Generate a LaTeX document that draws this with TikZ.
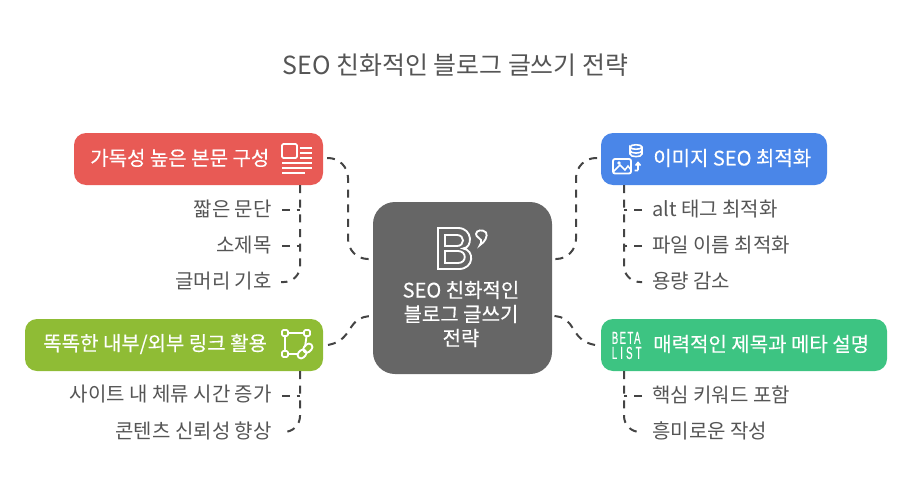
\documentclass[tikz,border=0pt]{standalone}
\usepackage{fontspec}
\setmainfont{Noto Sans CJK KR}
\newfontfamily\boxfont[FakeBold=0.25]{Noto Sans CJK KR}
\newfontfamily\betafont[FakeStretch=0.56,LetterSpace=8,FakeBold=0.4]{Liberation Sans}
\definecolor{redbox}{HTML}{E85A55}
\definecolor{bluebox}{HTML}{4A86E8}
\definecolor{greenbox}{HTML}{3DC482}
\definecolor{olivebox}{HTML}{8FBC35}
\definecolor{centerbox}{HTML}{666666}
\definecolor{inktext}{HTML}{555555}
\definecolor{linkline}{HTML}{444444}
\tikzset{
  box/.style={rounded corners=9pt,minimum height=39pt,inner sep=0pt},
  boxtext/.style={text=white,inner sep=0pt,font=\boxfont\fontsize{15}{18}\selectfont},
  itemleft/.style={text=inktext,inner sep=0pt,anchor=east,font=\fontsize{15}{18}\selectfont},
  itemright/.style={text=inktext,inner sep=0pt,anchor=west,font=\fontsize{15}{18}\selectfont},
  link/.style={draw=linkline,line width=1.5pt,dash pattern=on 6pt off 5pt},
  icon/.style={draw=white,line width=1.4pt},
}
\begin{document}
\begin{tikzpicture}[x=0.75pt,y=-0.75pt]
\useasboundingbox (0,0) rectangle (912,492);
\node [text=inktext,inner sep=0pt,font=\fontsize{18.7}{22}\selectfont] (title) at (455.5,65) {SEO 친화적인 블로그 글쓰기 전략};
% boxes
\node [box,fill=redbox,minimum width=186.75pt] (red) at (198.5,159) {};
\node [box,fill=bluebox,minimum width=169.5pt] (blue) at (714,159) {};
\node [box,fill=olivebox,minimum width=223.5pt] (olive) at (174,345) {};
\node [box,fill=greenbox,minimum width=214.5pt] (green) at (744,345) {};
\node [rounded corners=16.5pt,fill=centerbox,minimum width=134.25pt,minimum height=129pt] (hub) at (462.5,288) {};
\node [boxtext,anchor=west] (redtext) at (90,158) {가독성 높은 본문 구성};
\node [boxtext,anchor=west] (bluetext) at (653,158) {이미지 SEO 최적화};
\node [boxtext,anchor=west] (olivetext) at (43,344) {똑똑한 내부/외부 링크 활용};
\node [boxtext,anchor=west] (greentext) at (653,344) {매력적인 제목과 메타 설명};
\node [boxtext,align=center] (hubtext) at (461,314) {SEO 친화적인\\블로그 글쓰기\\전략};
% items
\node [itemleft] (r1) at (272,209) {짧은 문단};
\node [itemleft] (r2) at (272,245) {소제목};
\node [itemleft] (r3) at (272,281) {글머리 기호};
\node [itemleft] (o1) at (272,394.5) {사이트 내 체류 시간 증가};
\node [itemleft] (o2) at (272,430.5) {콘텐츠 신뢰성 향상};
\node [itemright] (b1) at (652,209) {alt 태그 최적화};
\node [itemright] (b2) at (652,245) {파일 이름 최적화};
\node [itemright] (b3) at (652,281) {용량 감소};
\node [itemright] (g1) at (652,394.5) {핵심 키워드 포함};
\node [itemright] (g2) at (652,430.5) {흥미로운 작성};
% hub links
\coordinate (hubul) at (373,259);
\coordinate (hubll) at (373,316);
\coordinate (hubur) at (552,259);
\coordinate (hublr) at (552,316);
\coordinate (redout) at (327,158);
\coordinate (blueout) at (597,158);
\coordinate (oliveout) at (328,345);
\coordinate (greenout) at (595,345);
\draw [link,rounded corners=15pt] (redout) -- (348,158) -- (348,259) -- (hubul);
\draw [link,rounded corners=15pt] (blueout) -- (576,158) -- (576,259) -- (hubur);
\draw [link] (oliveout) .. controls (355,340) and (345,316) .. (hubll);
\draw [link] (greenout) .. controls (568,340) and (578,316) .. (hublr);
% stems
\coordinate (rs1) at (282,210);
\coordinate (rs2) at (282,246);
\coordinate (rs3) at (281,282);
\coordinate (os1) at (282,396);
\coordinate (os2) at (281,432);
\coordinate (bs1) at (642,210);
\coordinate (bs2) at (642,246);
\coordinate (bs3) at (642,282);
\coordinate (gs1) at (642,396);
\coordinate (gs2) at (642,432);
\draw [link,rounded corners=12pt] (300,185) -- (300,282) -- (rs3);
\draw [link] (rs1) -- (300,210);
\draw [link] (rs2) -- (300,246);
\draw [link,rounded corners=12pt] (300,371) -- (300,432) -- (os2);
\draw [link] (os1) -- (300,396);
\draw [link,rounded corners=12pt] (624,185) -- (624,282) -- (bs3);
\draw [link] (bs1) -- (624,210);
\draw [link] (bs2) -- (624,246);
\draw [link,rounded corners=12pt] (624,371) -- (624,432) -- (gs2);
\draw [link] (gs1) -- (624,396);
% document icon
\draw [icon,rounded corners=1pt] (282,144) rectangle (297,158);
\draw [icon] (300,148) -- (312,148) (300,153) -- (312,153) (300,158) -- (312,158)
  (282,163) -- (312,163) (282,168) -- (312,168) (282,173) -- (305,173);
% image and database icon
\draw [icon,rounded corners=1.5pt] (613,159) rectangle (631,173.5);
\draw [icon,line width=1.1pt] (613,172) -- (620,165) -- (625,170) -- (628,166) -- (631,170);
\fill [white] (619,163) circle (1.8);
\draw [icon,line width=1.2pt] (630,147) .. controls (630,144) and (642,144) .. (642,147) .. controls (642,150) and (630,150) .. (630,147) -- (630,154)
  .. controls (630,157.5) and (642,157.5) .. (642,154) -- (642,147)
  (630,150.5) .. controls (630,154) and (642,154) .. (642,150.5);
\draw [icon,line width=1.2pt] (638,170) -- (638,163) (635.5,165.5) -- (638,162.5) -- (640.5,165.5) (634.5,170.5) -- (638,170.5);
% link icon
\draw [icon] (285,333) -- (307,333) (285,333) -- (285,354) -- (299,354) (307,333) -- (305,347);
\foreach \px/\py in {285/333,307/333,285/354}
  \draw [icon,fill=olivebox,rounded corners=1pt] (\px-3,\py-3) rectangle (\px+3,\py+3);
\draw [icon,fill=olivebox,rotate around={45:(305,351)},rounded corners=2.5pt] (296,347.5) rectangle (305.5,354.5);
\draw [icon,rotate around={45:(305,351)},rounded corners=2.5pt] (304,347.5) rectangle (314,354.5);
% beta list icon
\node [text=white,inner sep=0pt,anchor=west,align=left,font=\betafont\fontsize{13}{11.3}\selectfont] (betalist) at (611.5,345.5) {BETA\\\addfontfeature{LetterSpace=18}LIST};
% blog icon
\draw [icon] (438,228) -- (458,228) .. controls (473,228) and (473,248) .. (463,248.5) .. controls (475,250) and (474,269) .. (459,269) -- (438,269) -- cycle;
\draw [icon] (445,235) -- (457,235) .. controls (465,235) and (465,246) .. (457,246) -- (445,246) -- cycle;
\draw [icon] (445,251) -- (458,251) .. controls (467,251) and (467,263) .. (458,263) -- (445,263) -- cycle;
\draw [icon] (480,245) .. controls (485,242) and (488,236) .. (486,232.5) .. controls (483,229) and (476,230) .. (476,234) .. controls (476,237) and (480,238) .. (481,240) .. controls (481.5,242) and (481,244) .. (480,245) -- cycle;
\end{tikzpicture}
\end{document}
